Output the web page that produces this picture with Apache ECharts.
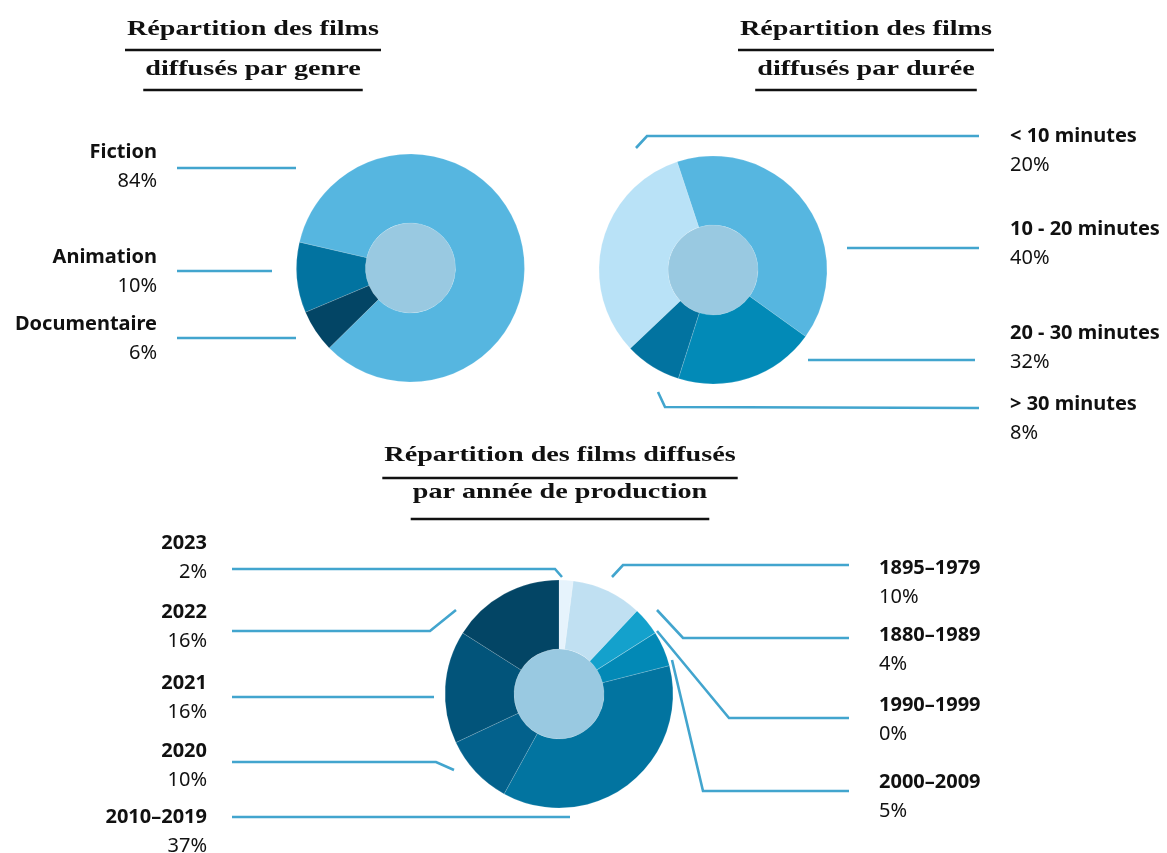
<!DOCTYPE html>
<html>
<head>
<meta charset="utf-8">
<script src="https://cdn.jsdelivr.net/npm/echarts@6/dist/echarts.min.js"></script>
<style>
html, body { margin: 0; padding: 0; background: #fff; }
#chart { width: 1167px; height: 853px; }
</style>
</head>
<body>
<div id="chart"></div>
<script>
// --- données ---
const genreNames = ['Fiction', 'Animation', 'Documentaire'];
const genreValues = [84, 10, 6];

const dureeNames = ['< 10 minutes', '10 - 20 minutes', '20 - 30 minutes', '> 30 minutes'];
const dureeShown = [20, 40, 32, 8];   // % imprimés sur l'infographie
const dureeArcs = [32, 40, 20, 8];    // parts réellement dessinées dans l'original

const anneeNames = ['2023', '1895–1979', '1880–1989', '1990–1999', '2000–2009', '2010–2019', '2020', '2021', '2022'];
const anneeValues = [2, 10, 4, 0, 5, 37, 10, 16, 16];

// --- styles ---
const genreColors = ['#56b6e0', '#0273a0', '#034565'];
const dureeColors = ['#b9e2f7', '#56b6e0', '#028ab7', '#0273a0'];
const anneeColors = ['#e6f3fc', '#c0e0f2', '#14a1cc', '#14a1cc', '#0289b6', '#0274a0', '#03618c', '#02547a', '#034565'];
const holeColor = '#99c9e1';
const lineColor = '#42a5ce';
const textColor = '#111';
const labelFont = '"Noto Sans", sans-serif';
const titleFont = '"Liberation Serif", serif';

// positions des étiquettes et des traits de rappel
const genreSpots = [
    { x: 157, y: 167, align: 'right', line: [[296, 168], [236, 168], [177, 168]] },
    { x: 157, y: 272, align: 'right', line: [[272, 271], [224, 271], [177, 271]] },
    { x: 157, y: 339, align: 'right', line: [[296, 338], [236, 338], [177, 338]] }
];
const dureeSpots = [
    { x: 1010, y: 151, align: 'left', line: [[636, 148], [647, 136], [979, 136]] },
    { x: 1010, y: 244, align: 'left', line: [[847, 248], [913, 248], [979, 248]] },
    { x: 1010, y: 348, align: 'left', line: [[808, 360], [890, 360], [975, 360]] },
    { x: 1010, y: 419, align: 'left', line: [[658, 392], [665, 407], [979, 408]] }
];
const anneeSpots = [
    { x: 207, y: 558, align: 'right', line: [[562, 577], [555, 569], [232, 569]] },
    { x: 879, y: 583, align: 'left', line: [[612, 577], [623, 565], [849, 565]] },
    { x: 879, y: 650, align: 'left', line: [[657, 610], [683, 638], [849, 638]] },
    { x: 879, y: 720, align: 'left', line: [[657, 631], [729, 718], [849, 718]] },
    { x: 879, y: 797, align: 'left', line: [[672, 660], [703, 791], [849, 791]] },
    { x: 207, y: 832, align: 'right', line: [[570, 817], [400, 817], [232, 817]] },
    { x: 207, y: 766, align: 'right', line: [[454, 770], [436, 762], [232, 762]] },
    { x: 207, y: 698, align: 'right', line: [[434, 697], [333, 697], [232, 697]] },
    { x: 207, y: 627, align: 'right', line: [[456, 610], [430, 631], [232, 631]] }
];

const titleBlocks = [
    { cx: 253, lines: [['Répartition des films', 37, 50], ['diffusés par genre', 77, 90]] },
    { cx: 866, lines: [['Répartition des films', 37, 50], ['diffusés par durée', 77, 90]] },
    { cx: 560, lines: [['Répartition des films diffusés', 463, 478], ['par année de production', 500, 519]] }
];

const myChart = echarts.init(document.getElementById('chart'), null, { renderer: 'canvas' });

// largeur des titres : la police de l'original est plus large, on étire un peu
const ctx = document.createElement('canvas').getContext('2d');
ctx.font = 'bold 22px ' + titleFont;
const titleScale = 252 / ctx.measureText('Répartition des films').width;

function makeTitles() {
    let els = [];
    titleBlocks.forEach(b => {
        b.lines.forEach(l => {
            let w = ctx.measureText(l[0]).width * titleScale;
            els.push({
                type: 'text', x: b.cx, y: l[1] - 7.4, scaleX: titleScale, silent: true,
                style: { text: l[0], font: 'bold 22px ' + titleFont, fill: textColor, align: 'center', verticalAlign: 'middle' }
            });
            els.push({
                type: 'line', silent: true,
                shape: { x1: b.cx - w / 2 - 2, y1: l[2], x2: b.cx + w / 2 + 2, y2: l[2] },
                style: { stroke: textColor, lineWidth: 2.7 }
            });
        });
    });
    return els;
}

function richLabel(spots, shown) {
    return {
        show: true,
        formatter: p => '{n|' + p.name + '}\n{p|' + (shown ? shown[p.dataIndex] : p.value) + '%}',
        rich: {
            n: { fontFamily: labelFont, fontWeight: 'bold', fontSize: 20, lineHeight: 29, color: textColor },
            p: { fontFamily: labelFont, fontWeight: 'normal', fontSize: 20, lineHeight: 29, color: textColor }
        }
    };
}

function spotLayout(spots) {
    return params => {
        let s = spots[params.dataIndex];
        return { x: s.x, y: s.y, align: s.align, verticalAlign: 'middle', labelLinePoints: s.line };
    };
}

function donut(center, startAngle, clockwise, names, values, colors, spots, shown) {
    let label = richLabel(spots, shown);
    label.rich.n.align = spots[0].align;
    return {
        type: 'pie',
        center: center,
        radius: [45, 114],
        startAngle: startAngle,
        clockwise: clockwise,
        avoidLabelOverlap: false,
        silent: true,
        animation: false,
        itemStyle: { borderColor: 'rgba(255,255,255,0.3)', borderWidth: 0.5 },
        label: label,
        labelLine: { show: true, smooth: false, lineStyle: { color: lineColor, width: 2.6 } },
        labelLayout: spotLayout(spots),
        data: names.map((n, i) => ({ name: n, value: values[i], itemStyle: { color: colors[i] } }))
    };
}

let option = {
    backgroundColor: '#fff',
    animation: false,
    graphic: {
        elements: makeTitles().concat([
            { type: 'circle', silent: true, shape: { cx: 410.5, cy: 268, r: 45 }, style: { fill: holeColor } },
            { type: 'circle', silent: true, shape: { cx: 713, cy: 270, r: 45 }, style: { fill: holeColor } },
            { type: 'circle', silent: true, shape: { cx: 559, cy: 694, r: 45 }, style: { fill: holeColor } }
        ])
    },
    series: [
        donut([410.5, 268], -135.5, false, genreNames, genreValues, genreColors, genreSpots),
        donut([713, 270], -136.5, true, dureeNames, dureeArcs, dureeColors, dureeSpots, dureeShown),
        donut([559, 694], 90, true, anneeNames, anneeValues, anneeColors, anneeSpots)
    ]
};
myChart.setOption(option);
</script>
</body>
</html>
